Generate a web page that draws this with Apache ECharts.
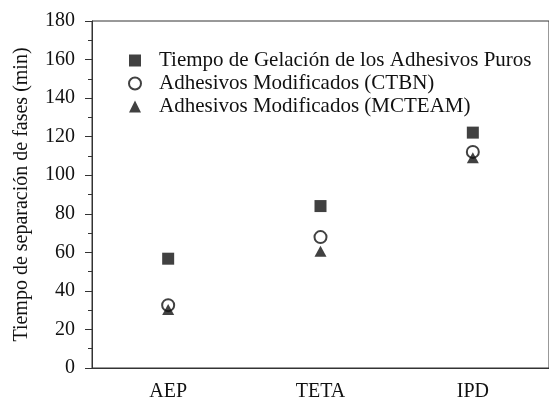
<!DOCTYPE html>
<html>
<head>
<meta charset="utf-8">
<script src="https://cdn.jsdelivr.net/npm/echarts@6/dist/echarts.min.js"></script>
<style>html,body{margin:0;padding:0;background:#fff}#c{width:549px;height:402px}</style>
</head>
<body>
<div id="c"></div>
<script>
const categories = ['AEP', 'TETA', 'IPD'];
const puros = [56.7, 84.0, 122.1];
const ctbn = [32.6, 67.9, 112.1];
const mcteam = [30.4, 60.6, 109.0];
const seriesNames = [
  'Tiempo de Gelación de los Adhesivos Puros',
  'Adhesivos Modificados (CTBN)',
  'Adhesivos Modificados (MCTEAM)'
];
const yAxisName = 'Tiempo de separación de fases (min)';

const FONT = '"Liberation Serif", "Times New Roman", serif';
const INK = '#111111';
const chart = echarts.init(document.getElementById('c'), null, {renderer: 'canvas'});
chart.setOption({
  backgroundColor: '#fff',
  animation: false,
  textStyle: {fontFamily: FONT},
  grid: {left: 92, top: 21, width: 468, height: 349, show: true, borderColor: '#333', borderWidth: 1, backgroundColor: 'transparent'},
  legend: {
    orient: 'vertical',
    left: 123, top: 45,
    itemWidth: 12, itemHeight: 12, itemGap: 2,
    symbolKeepAspect: true,
    textStyle: {fontFamily: FONT, fontSize: 21, color: INK, lineHeight: 21, padding: [0, 0, 0, 13]},
    data: seriesNames
  },
  xAxis: {
    type: 'category',
    data: categories,
    boundaryGap: true,
    axisLine: {lineStyle: {color: '#333', width: 1}},
    axisTick: {show: false},
    axisLabel: {fontFamily: FONT, fontSize: 20, color: INK, margin: 14},
    splitLine: {show: false}
  },
  yAxis: {
    type: 'value',
    min: 0, max: 180, interval: 20,
    name: yAxisName,
    nameLocation: 'middle',
    nameGap: 60,
    nameTextStyle: {fontFamily: FONT, fontSize: 20, color: INK},
    axisLine: {show: true, lineStyle: {color: '#333', width: 1}},
    axisTick: {show: true, length: 7, lineStyle: {color: '#333'}},
    minorTick: {show: true, splitNumber: 2, length: 4, lineStyle: {color: '#333'}},
    axisLabel: {fontFamily: FONT, fontSize: 20, color: INK, margin: 17},
    splitLine: {show: false}
  },
  series: [
    {name: seriesNames[0], type: 'scatter', data: puros, symbol: 'rect', symbolSize: 12,
     itemStyle: {color: INK}},
    {name: seriesNames[1], type: 'scatter', data: ctbn, symbol: 'emptyCircle', symbolSize: 12,
     itemStyle: {color: INK, borderWidth: 1.6}},
    {name: seriesNames[2], type: 'scatter', data: mcteam, symbol: 'triangle', symbolSize: [12, 11],
     itemStyle: {color: INK}}
  ]
});
</script>
</body>
</html>
